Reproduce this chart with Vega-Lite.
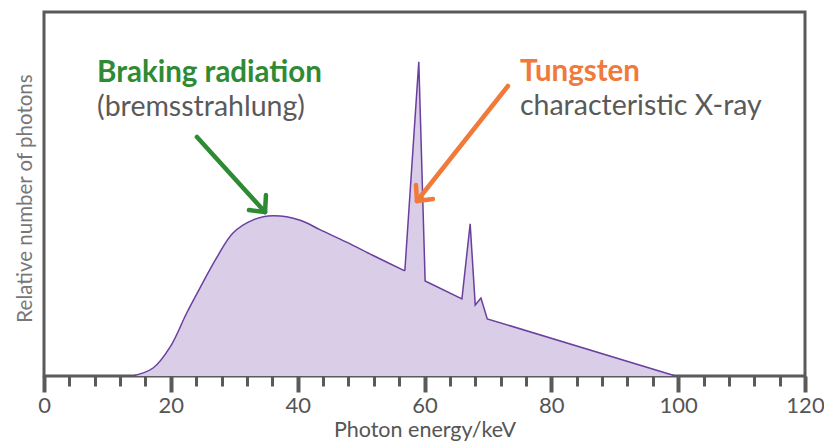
{
  "$schema": "https://vega.github.io/schema/vega-lite/v6.json",
  "width": 761,
  "height": 364,
  "autosize": {"type": "none"},
  "padding": {"left": 44, "top": 12, "right": 19, "bottom": 67},
  "background": "white",
  "config": {
    "view": {"stroke": "#5a5a5a", "strokeWidth": 3},
    "font": "Lato",
    "axisX": {"labelOverlap": false}
  },
  "datasets": {
    "spectrum": [
      {"E": 14.0, "v": 0, "part": "smooth"},
      {"E": 17.2, "v": 2.2, "part": "smooth"},
      {"E": 19.9, "v": 8.0, "part": "smooth"},
      {"E": 22.5, "v": 17.3, "part": "smooth"},
      {"E": 24.6, "v": 24.2, "part": "smooth"},
      {"E": 27.3, "v": 32.7, "part": "smooth"},
      {"E": 29.8, "v": 39.3, "part": "smooth"},
      {"E": 33.0, "v": 42.9, "part": "smooth"},
      {"E": 36.1, "v": 44.0, "part": "smooth"},
      {"E": 40.4, "v": 42.8, "part": "smooth"},
      {"E": 43.5, "v": 40.2, "part": "smooth"},
      {"E": 47.8, "v": 36.7, "part": "smooth"},
      {"E": 51.9, "v": 33.1, "part": "smooth"},
      {"E": 56.9, "v": 28.9, "part": "smooth"},
      {"E": 56.9, "v": 28.9, "part": "peaks"},
      {"E": 59.1, "v": 86.3, "part": "peaks"},
      {"E": 60.1, "v": 26.1, "part": "peaks"},
      {"E": 65.9, "v": 21.2, "part": "peaks"},
      {"E": 67.2, "v": 41.8, "part": "peaks"},
      {"E": 68.0, "v": 19.5, "part": "peaks"},
      {"E": 68.9, "v": 21.4, "part": "peaks"},
      {"E": 69.9, "v": 15.7, "part": "peaks"},
      {"E": 99.6, "v": 0, "part": "peaks"}
    ],
    "labels": [
      {"E": 8.36, "v": 83.2, "text": "Braking radiation", "kind": "brems", "role": "title"},
      {"E": 8.36, "v": 73.9, "text": "(bremsstrahlung)", "kind": "desc", "role": "sub"},
      {"E": 75.05, "v": 83.5, "text": "Tungsten", "kind": "tungsten", "role": "title"},
      {"E": 75.05, "v": 74.2, "text": "characteristic X-ray", "kind": "desc", "role": "sub"}
    ],
    "arrows": [
      {"E": 24.12, "v": 65.66, "E2": 34.85, "v2": 45.05, "kind": "brems"},
      {"E": 32.32, "v": 45.6, "E2": 34.85, "v2": 45.05, "kind": "brems"},
      {"E": 35.0, "v": 49.7, "E2": 34.85, "v2": 45.05, "kind": "brems"},
      {"E": 73.16, "v": 79.67, "E2": 58.81, "v2": 48.08, "kind": "tungsten"},
      {"E": 61.34, "v": 48.63, "E2": 58.81, "v2": 48.08, "kind": "tungsten"},
      {"E": 58.66, "v": 52.47, "E2": 58.81, "v2": 48.08, "kind": "tungsten"}
    ]
  },
  "layer": [
    {
      "data": {"name": "spectrum"},
      "transform": [{"filter": "datum.part === 'peaks' || (datum.E >= 51.9 && datum.E < 56)"}],
      "mark": {"type": "area", "interpolate": "linear", "color": "#d9cde8", "opacity": 1},
      "encoding": {
        "x": {
          "field": "E", "type": "quantitative",
          "scale": {"domain": [0, 120], "nice": false},
          "axis": {
            "values": [0, 4, 8, 12, 16, 20, 24, 28, 32, 36, 40, 44, 48, 52, 56, 60, 64, 68, 72, 76, 80, 84, 88, 92, 96, 100, 104, 108, 112, 116, 120],
            "tickCount": 60,
            "labelExpr": "datum.value % 20 === 0 ? datum.label : ''",
            "domain": false,
            "grid": false,
            "tickColor": "#5a5a5a",
            "tickSize": {"condition": {"test": "datum.value % 20 === 0", "value": 16}, "value": 10},
            "tickWidth": {"condition": {"test": "datum.value % 20 === 0", "value": 4}, "value": 3},
            "labelFontSize": 22,
            "labelColor": "#555555",
            "labelFont": "Lato",
            "labelPadding": 3,
            "labelFlush": false,
            "labelOverlap": false,
            "labelBound": false,
            "title": "Photon energy/keV",
            "titleFontSize": 21.5,
            "titleFontWeight": "normal",
            "titleColor": "#555555",
            "titlePadding": 3
          }
        },
        "y": {
          "field": "v", "type": "quantitative", "stack": null,
          "scale": {"domain": [0, 100], "nice": false},
          "axis": {
            "domain": false, "ticks": false, "labels": false, "grid": false,
            "title": "Relative number of photons",
            "titleFontSize": 20.5,
            "titleFontWeight": "normal",
            "titleColor": "#777777",
            "titleAngle": 270,
            "titleX": -19,
            "titleY": 186,
            "titleAlign": "center",
            "titleBaseline": "middle"
          }
        }
      }
    },
    {
      "data": {"name": "spectrum"},
      "transform": [{"filter": "datum.part === 'smooth'"}],
      "mark": {"type": "area", "interpolate": "catmull-rom", "color": "#d9cde8", "opacity": 1},
      "encoding": {
        "x": {"field": "E", "type": "quantitative"},
        "y": {"field": "v", "type": "quantitative", "stack": null}
      }
    },
    {
      "data": {"name": "spectrum"},
      "transform": [{"filter": "datum.part === 'smooth'"}],
      "mark": {"type": "line", "interpolate": "catmull-rom", "stroke": "#6a3f9e", "strokeWidth": 1.5},
      "encoding": {
        "x": {"field": "E", "type": "quantitative"},
        "y": {"field": "v", "type": "quantitative"}
      }
    },
    {
      "data": {"name": "spectrum"},
      "transform": [{"filter": "datum.part === 'peaks'"}],
      "mark": {"type": "line", "interpolate": "linear", "stroke": "#6a3f9e", "strokeWidth": 1.5},
      "encoding": {
        "x": {"field": "E", "type": "quantitative"},
        "y": {"field": "v", "type": "quantitative"}
      }
    },
    {
      "data": {"name": "arrows"},
      "mark": {"type": "rule", "strokeWidth": 4.5, "strokeCap": "round"},
      "encoding": {
        "x": {"field": "E", "type": "quantitative"},
        "y": {"field": "v", "type": "quantitative"},
        "x2": {"field": "E2"},
        "y2": {"field": "v2"},
        "color": {"field": "kind", "type": "nominal", "scale": {"domain": ["brems", "tungsten", "desc"], "range": ["#2e8b34", "#f07a3a", "#5a5a5a"]}, "legend": null}
      }
    },
    {
      "data": {"name": "labels"},
      "transform": [{"filter": "datum.role === 'title'"}],
      "mark": {"type": "text", "align": "left", "baseline": "middle", "fontSize": 29.5, "fontWeight": "bold", "font": "Lato"},
      "encoding": {
        "x": {"field": "E", "type": "quantitative"},
        "y": {"field": "v", "type": "quantitative"},
        "text": {"field": "text"},
        "color": {"field": "kind", "type": "nominal", "scale": {"domain": ["brems", "tungsten", "desc"], "range": ["#2e8b34", "#f07a3a", "#5a5a5a"]}, "legend": null}
      }
    },
    {
      "data": {"name": "labels"},
      "transform": [{"filter": "datum.role === 'sub'"}],
      "mark": {"type": "text", "align": "left", "baseline": "middle", "fontSize": 28.5, "font": "Lato"},
      "encoding": {
        "x": {"field": "E", "type": "quantitative"},
        "y": {"field": "v", "type": "quantitative"},
        "text": {"field": "text"},
        "color": {"field": "kind", "type": "nominal", "scale": {"domain": ["brems", "tungsten", "desc"], "range": ["#2e8b34", "#f07a3a", "#5a5a5a"]}, "legend": null}
      }
    }
  ]
}
